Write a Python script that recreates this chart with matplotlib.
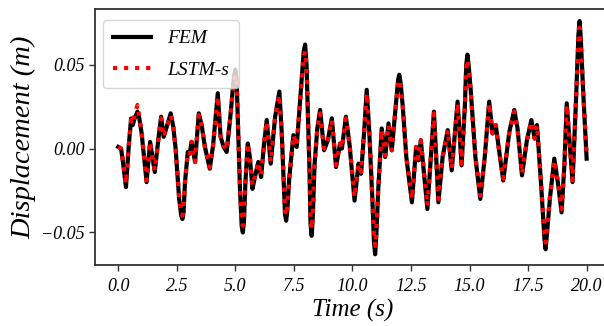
import matplotlib as mpl
mpl.use('Agg')
import matplotlib.pyplot as plt
import numpy as np

# key points (time in s, displacement in m)
time_s = [0.00, 0.12, 0.20, 0.33, 0.45, 0.55, 0.62, 0.70, 0.82, 0.90,
          1.00, 1.21, 1.36, 1.46, 1.56, 1.70, 1.83, 1.94, 2.05, 2.24,
          2.35, 2.45, 2.60, 2.69, 2.74, 2.79, 2.85, 2.97, 3.05, 3.13, 3.28, 3.44,
          3.56, 3.70, 3.91, 4.05, 4.25, 4.37, 4.50, 4.63, 4.78, 4.94, 5.00,
          5.06, 5.10, 5.20, 5.27, 5.32, 5.37, 5.43, 5.53, 5.62, 5.73, 5.85, 5.98, 6.10,
          6.22, 6.34, 6.51, 6.70, 6.88, 6.98, 7.08, 7.12, 7.17, 7.22, 7.30, 7.48,
          7.62, 7.80, 7.92, 7.98, 8.04, 8.08, 8.17, 8.21, 8.26, 8.31, 8.38, 8.50, 8.62, 8.79,
          8.95, 9.12, 9.30, 9.47, 9.55, 9.72, 9.88, 10.09, 10.26, 10.37,
          10.50, 10.61, 10.72, 10.85, 10.92, 10.97, 11.02, 11.10, 11.25, 11.40, 11.54, 11.68,
          11.85, 11.95, 12.00, 12.05, 12.15, 12.30, 12.54, 12.72, 12.82, 12.92, 13.20, 13.35,
          13.48, 13.67, 13.85, 14.07, 14.24, 14.49, 14.66, 14.80, 14.86, 14.91, 14.96, 15.05,
          15.25, 15.46, 15.65, 15.84, 15.98, 16.12, 16.30, 16.44, 16.70, 16.91,
          17.05, 17.24, 17.45, 17.64, 17.78, 17.88, 18.05, 18.20, 18.25, 18.30, 18.43, 18.62,
          18.79, 18.93, 19.05, 19.15, 19.40, 19.55, 19.65, 19.70, 19.75, 19.85, 20.00]

fem = [0.001, 0.000, -0.008, -0.023, 0.002, 0.018, 0.014, 0.018, 0.022, 0.018,
       0.009, -0.020, 0.004, -0.005, -0.014, 0.004, 0.019, 0.007, 0.012, 0.021,
       0.013, 0.000, -0.030, -0.040, -0.042, -0.038, -0.020, -0.002, -0.003, 0.004, -0.008, 0.021,
       0.014, 0.001, -0.012, 0.002, 0.033, 0.007, 0.001, -0.002, 0.018, 0.043, 0.047,
       0.040, 0.020, -0.025, -0.046, -0.050, -0.043, -0.020, 0.003, -0.005, -0.024, -0.016, -0.008, -0.017,
       0.002, 0.017, -0.009, 0.019, 0.034, 0.010, -0.025, -0.039, -0.043, -0.037, -0.018, 0.008,
       0.001, 0.035, 0.058, 0.062, 0.050, 0.030, -0.015, -0.045, -0.052, -0.040, -0.010, 0.012, 0.023, -0.001,
       0.005, 0.018, -0.011, 0.003, 0.000, 0.019, 0.002, -0.031, -0.009, -0.015,
       0.010, 0.035, 0.010, -0.030, -0.056, -0.063, -0.052, -0.025, 0.012, -0.005, 0.015, -0.001,
       0.025, 0.041, 0.044, 0.040, 0.025, -0.005, -0.032, 0.001, -0.007, 0.005, -0.036, -0.005,
       0.022, -0.032, -0.005, 0.011, -0.013, 0.028, -0.010, 0.025, 0.050, 0.056, 0.050, 0.035,
       -0.005, -0.030, -0.005, 0.028, 0.009, 0.014, -0.005, -0.019, 0.010, 0.023,
       0.012, -0.016, 0.005, 0.017, 0.006, 0.014, -0.020, -0.054, -0.060, -0.052, -0.030, -0.006,
       -0.022, -0.038, -0.010, 0.027, -0.020, 0.030, 0.068, 0.076, 0.066, 0.035, -0.006]

lstm_s = [0.001, 0.000, -0.007, -0.021, 0.002, 0.017, 0.015, 0.020, 0.026, 0.019,
          0.009, -0.019, 0.004, -0.005, -0.013, 0.004, 0.018, 0.007, 0.012, 0.020,
          0.013, 0.000, -0.029, -0.038, -0.040, -0.036, -0.020, -0.002, -0.003, 0.004, -0.008, 0.020,
          0.014, 0.001, -0.011, 0.002, 0.031, 0.007, 0.002, -0.001, 0.018, 0.040, 0.044,
          0.038, 0.020, -0.024, -0.043, -0.046, -0.040, -0.019, 0.003, -0.005, -0.022, -0.016, -0.008, -0.016,
          0.002, 0.016, -0.008, 0.019, 0.032, 0.010, -0.024, -0.037, -0.040, -0.035, -0.018, 0.008,
          0.002, 0.034, 0.055, 0.058, 0.048, 0.030, -0.015, -0.042, -0.048, -0.038, -0.010, 0.012, 0.021, 0.000,
          0.005, 0.017, -0.010, 0.003, 0.000, 0.018, 0.002, -0.029, -0.009, -0.014,
          0.010, 0.033, 0.010, -0.029, -0.052, -0.058, -0.049, -0.024, 0.011, -0.004, 0.014, -0.001,
          0.025, 0.039, 0.041, 0.038, 0.025, -0.005, -0.030, 0.001, -0.006, 0.005, -0.034, -0.005,
          0.021, -0.030, -0.005, 0.011, -0.012, 0.027, -0.009, 0.025, 0.048, 0.053, 0.048, 0.034,
          -0.005, -0.028, -0.005, 0.027, 0.009, 0.014, -0.005, -0.018, 0.010, 0.022,
          0.012, -0.015, 0.005, 0.016, 0.006, 0.014, -0.020, -0.051, -0.056, -0.049, -0.029, -0.007,
          -0.021, -0.036, -0.010, 0.026, -0.019, 0.030, 0.065, 0.072, 0.063, 0.035, -0.004]

plt.rcParams['font.family'] = 'Liberation Serif'
plt.rcParams['font.style'] = 'italic'

fig = plt.figure(figsize=(6.04, 3.26), dpi=100)
ax = fig.add_axes([0.157, 0.187, 0.853, 0.785])

ax.plot(time_s, fem, color='black', linewidth=3, label='FEM', zorder=2)
ax.plot(time_s, lstm_s, color='red', linestyle=':', linewidth=3, label='LSTM-s', zorder=3)

ax.set_xticks(np.arange(0, 20.1, 2.5))
ax.set_yticks([-0.05, 0.0, 0.05])
ax.set_xlim(-1.0, 21.0)
ax.set_ylim(-0.0694, 0.0831)
ax.tick_params(labelsize=13, direction='out', length=4, width=1, color='#333333')
ax.tick_params(axis='x', pad=5)
ax.set_xlabel('Time (s)', fontsize=18, labelpad=3)
ax.set_ylabel('Displacement (m)', fontsize=20.5, labelpad=3)
for sp in ax.spines.values():
    sp.set_color('#333333')
    sp.set_linewidth(1.3)

ax.legend(loc='upper left', bbox_to_anchor=(0.0156, 0.957), borderaxespad=0,
          fontsize=14, fancybox=True, framealpha=0.8, labelspacing=0.7,
          borderpad=0.5)

fig.savefig('out.png', dpi=100)
